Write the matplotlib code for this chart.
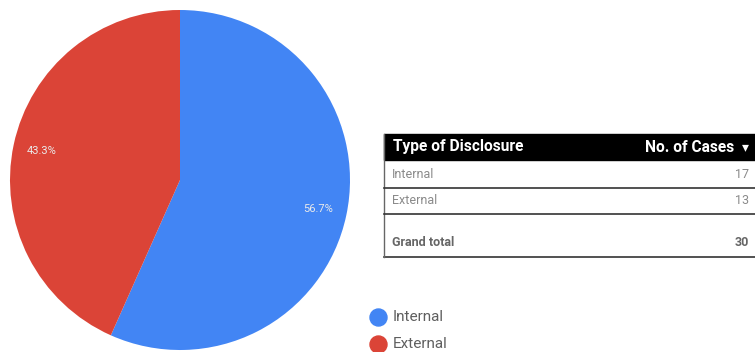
import matplotlib
matplotlib.use("Agg")
import matplotlib.pyplot as plt
from matplotlib.patches import Rectangle

# Data
categories = ["Internal", "External"]
cases = [17, 13]
total_label = "Grand total"
header_labels = ["Type of Disclosure", "No. of Cases"]
colors = ["#4285F4", "#DB4437"]

W, H = 755, 352
fig = plt.figure(figsize=(W / 100, H / 100), dpi=100)
ax = fig.add_axes([0, 0, 1, 1])
ax.set_xlim(0, W)
ax.set_ylim(H, 0)
ax.axis("off")

# Pie (drawn in its own axes so the orientation is standard)
pax = fig.add_axes([0, 0, 1, 1])
pax.set_xlim(0, W)
pax.set_ylim(0, H)
pax.set_aspect("equal")
pax.axis("off")
cx, cy, r = 180, H - 180, 170
wedges, _, autotexts = pax.pie(
    cases, colors=colors, startangle=90, counterclock=False,
    center=(cx, cy), radius=r, autopct="%1.1f%%", pctdistance=0.83,
    wedgeprops=dict(linewidth=0), textprops=dict(color="#eaeaea", fontsize=8, family="Roboto"),
)
pax.set_xlim(0, W)
pax.set_ylim(0, H)

# Legend
for i, (lab, col) in enumerate(zip(categories, colors)):
    y = 317 + i * 27
    ax.scatter([378], [y], s=150, color=col, zorder=3)
    ax.text(393, y, lab, va="center", ha="left", fontsize=11, color="#5f5f5f", family="Roboto")

# Table
x0, x1 = 384, 755
ax.add_patch(Rectangle((x0, 134), x1 - x0, 26, color="black", zorder=2))
ax.text(x0 + 9, 147, header_labels[0], color="white", fontsize=11.2, fontweight="bold",
        va="center", ha="left", family="Roboto")
ax.text(x1 - 21, 147, header_labels[1], color="white", fontsize=11.2, fontweight="bold",
        va="center", ha="right", family="Roboto")
ax.text(x1 - 6, 147, "\u25be", color="white", fontsize=10, va="center", ha="right",
        family=["DejaVu Sans"])

row_tops = [160, 188]
row_h = [28, 26]
for lab, val, top, h in zip(categories, cases, row_tops, row_h):
    ax.text(x0 + 8, top + h / 2, lab, color="#8a8a8a", fontsize=9, va="center", ha="left", family="Roboto")
    ax.text(x1 - 6, top + h / 2, str(val), color="#8a8a8a", fontsize=9, va="center", ha="right", family="Roboto")
    ax.plot([x0, x1], [top + h, top + h], color="#333333", lw=1.2, zorder=3)

ax.text(x0 + 8, 243, total_label, color="#666666", fontsize=9, fontweight="bold",
        va="center", ha="left", family="Roboto")
ax.text(x1 - 6, 243, str(sum(cases)), color="#666666", fontsize=9, fontweight="bold",
        va="center", ha="right", family="Roboto")
ax.plot([x0, x1], [257, 257], color="#333333", lw=1.2)
ax.plot([x0, x0], [134, 257], color="#666666", lw=1.0)

fig.savefig("out.png", dpi=100)
